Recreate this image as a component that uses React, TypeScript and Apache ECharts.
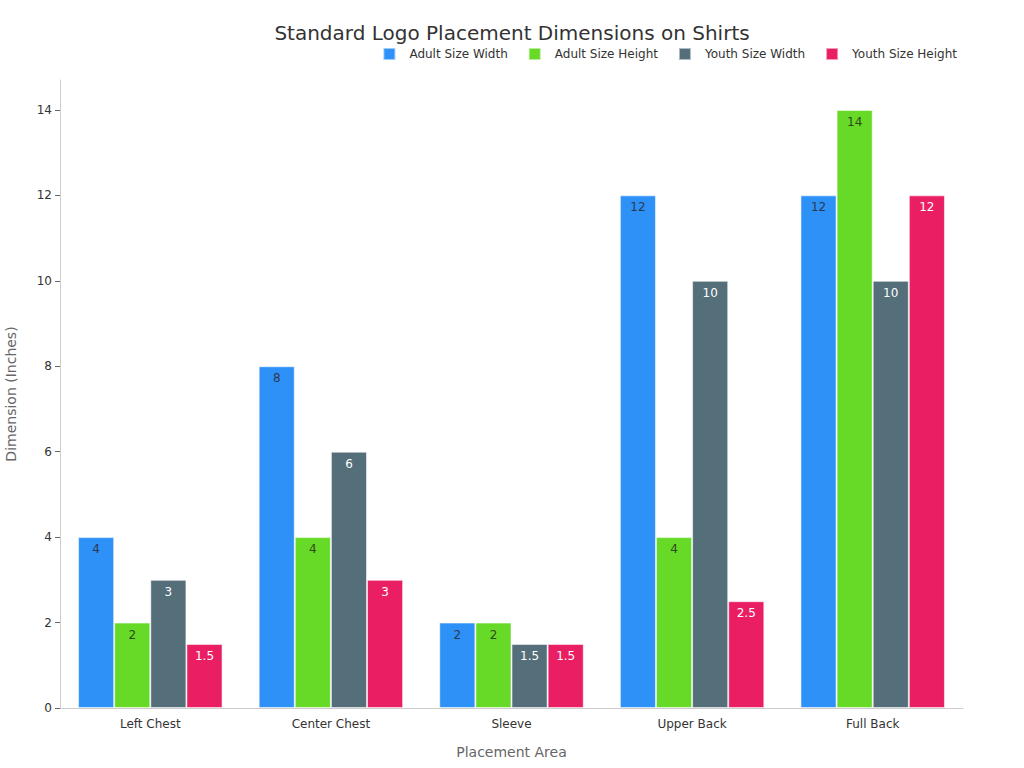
import React, { useEffect, useRef } from "react";
import * as echarts from "echarts";

const categories = ["Left Chest", "Center Chest", "Sleeve", "Upper Back", "Full Back"];
const adultWidth = [4, 8, 2, 12, 12];
const adultHeight = [2, 4, 2, 4, 14];
const youthWidth = [3, 6, 1.5, 10, 10];
const youthHeight = [1.5, 3, 1.5, 2.5, 12];
const seriesNames = ["Adult Size Width", "Adult Size Height", "Youth Size Width", "Youth Size Height"];
const colors = ["#2E91F7", "#66DA26", "#546E7A", "#E91E63"];
const labelColors = ["#2b3950", "#2f4a1a", "#ffffff", "#ffffff"];

export default function App() {
  const ref = useRef<HTMLDivElement>(null);
  useEffect(() => {
    document.body.style.margin = "0";
    const chart = echarts.init(ref.current!, null, { renderer: "svg" });
    const data = [adultWidth, adultHeight, youthWidth, youthHeight];
    chart.setOption({
      animation: false,
      textStyle: { fontFamily: "DejaVu Sans" },
      title: {
        text: "Standard Logo Placement Dimensions on Shirts",
        left: "center",
        top: 18,
        textStyle: { fontSize: 20, fontWeight: "normal", color: "#333", fontFamily: "DejaVu Sans" },
      },
      legend: {
        top: 42,
        right: 62,
        itemWidth: 12,
        itemHeight: 12,
        itemGap: 20,
        icon: "rect",
        textStyle: { fontSize: 12, color: "#333", padding: [0, 0, 0, 9] },
        data: seriesNames,
      },
      grid: { left: 60, right: 61, top: 80, bottom: 60, containLabel: false, outerBoundsMode: "none" },
      xAxis: {
        type: "category",
        data: categories,
        name: "Placement Area",
        nameLocation: "middle",
        nameGap: 37,
        nameTextStyle: { fontSize: 14, color: "#666" },
        axisLine: { lineStyle: { color: "#ccc" } },
        axisTick: { alignWithLabel: true, lineStyle: { color: "#666" } },
        axisLabel: { color: "#333", fontSize: 12, margin: 10 },
      },
      yAxis: {
        type: "value",
        min: 0,
        max: 14.7,
        interval: 2,
        name: "Dimension (Inches)",
        nameLocation: "middle",
        nameGap: 42,
        nameTextStyle: { fontSize: 14, color: "#666" },
        axisLine: { show: true, lineStyle: { color: "#ccc" } },
        axisTick: { show: true, lineStyle: { color: "#666" } },
        axisLabel: { color: "#333", fontSize: 12, showMaxLabel: false },
        splitLine: { show: false },
      },
      series: data.map((d, i) => ({
        name: seriesNames[i],
        type: "bar",
        data: d,
        barGap: "0%",
        barCategoryGap: "20%",
        itemStyle: { color: colors[i], borderColor: "rgba(255,255,255,0.55)", borderWidth: 1 },
        label: {
          show: true,
          position: "insideTop",
          distance: 6,
          fontSize: 12,
          color: labelColors[i],
        },
      })),
    });
    return () => chart.dispose();
  }, []);
  return <div ref={ref} style={{ width: 1024, height: 768 }} />;
}
